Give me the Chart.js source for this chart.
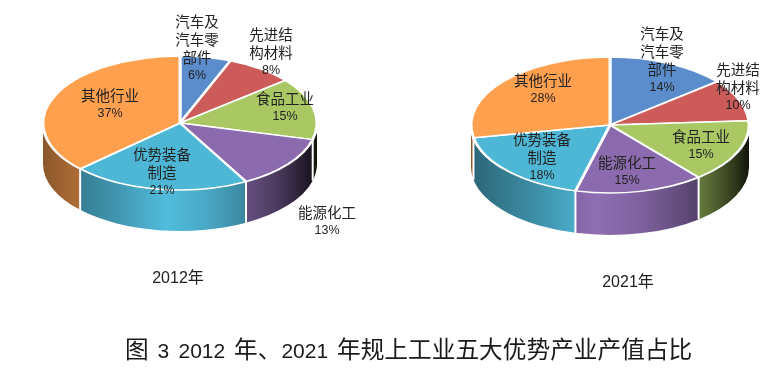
<!DOCTYPE html>
<html lang="zh">
<head>
<meta charset="utf-8">
<script src="https://cdn.jsdelivr.net/npm/chart.js@4"></script>
<style>
html,body{margin:0;padding:0;background:#fff;width:782px;height:372px;overflow:hidden}
canvas{position:absolute;top:0}
#caption{position:absolute;left:125px;top:331px;white-space:pre;font:23.7px/34px "Noto Sans CJK SC",sans-serif;color:#1a1a1a;word-spacing:3.5px}
#caption b{font-weight:normal;font-family:"Liberation Sans",sans-serif;font-size:21px}
</style>
</head>
<body>
<canvas id="c2012" width="391" height="372" style="left:0"></canvas>
<canvas id="c2021" width="391" height="372" style="left:391px"></canvas>
<div id="caption">图 <b>3 2012</b> 年、<b>2021</b> 年规上工业五大优势产业产值占比</div>
<script>
const categories = ['汽车及汽车零部件','先进结构材料','食品工业','能源化工','优势装备制造','其他行业'];
const categoryLines = [['汽车及','汽车零','部件'],['先进结','构材料'],['食品工业'],['能源化工'],['优势装备','制造'],['其他行业']];
const values2012 = [6,8,15,13,21,37];
const values2021 = [14,10,15,15,18,28];
const colors = ['#5b8ccb','#cd5b59','#a9c864','#8b6bae','#4fb7d6','#ffa04f'];
const shadeStops = [[0,0.55],[0.25,0.8],[0.45,1.03],[0.6,0.92],[0.75,0.72],[0.85,0.55],[0.95,0.28],[1,0.1]];

const layout2012 = {cx:180,cy:123,rx:137,ry:67,depth:41,title:'2012年',titleX:178,titleY:279,
  labels:[[197,21],[271,34],[285,98],[327,212],[162,154],[110,95]]};
const layout2021 = {cx:219,cy:125,rx:139,ry:68,depth:42,title:'2021年',titleX:237,titleY:283,
  labels:[[271,33],[347,69],[310,136],[236,162],[151,139],[152,80]]};

function shade(hex,f){
  const n=parseInt(hex.slice(1),16);
  const c=[n>>16,(n>>8)&255,n&255].map(v=>Math.min(255,Math.round(v*f)));
  return `rgb(${c[0]},${c[1]},${c[2]})`;
}
const pie3d = {
  id:'pie3d',
  beforeDatasetsDraw(chart,args,o){
    const ctx=chart.ctx, arcs=chart.getDatasetMeta(0).data;
    const {cx,cy,ry,depth}=o;
    ctx.save();
    arcs.forEach((arc,i)=>{
      const p=arc.getProps(['startAngle','endAngle','outerRadius']);
      const r=p.outerRadius, a0=Math.max(p.startAngle,0), a1=Math.min(p.endAngle,Math.PI);
      if(a1<=a0) return;
      const g=ctx.createLinearGradient(cx-r,0,cx+r,0);
      shadeStops.forEach(s=>g.addColorStop(s[0],shade(colors[i],s[1])));
      ctx.beginPath();
      ctx.ellipse(cx,cy,r,ry,0,a0,a1);
      ctx.ellipse(cx,cy+depth,r,ry,0,a1,a0,true);
      ctx.closePath();
      ctx.fillStyle=g;
      ctx.fill();
    });
    ctx.strokeStyle='#fff';ctx.lineWidth=2;
    arcs.forEach(arc=>{
      const a=arc.getProps(['endAngle']).endAngle, r=arc.getProps(['outerRadius']).outerRadius;
      if(a>0&&a<Math.PI){
        const x=cx+r*Math.cos(a), y=cy+ry*Math.sin(a);
        ctx.beginPath();ctx.moveTo(x,y);ctx.lineTo(x,y+depth);ctx.stroke();
      }
    });
    ctx.restore();
    ctx.save();
    const a0=arcs[0].getProps(['x','y']);
    ctx.translate(0,cy);
    ctx.scale(1,ry/arcs[0].getProps(['outerRadius']).outerRadius);
    ctx.translate(0,-a0.y);
  },
  afterDatasetsDraw(chart){ chart.ctx.restore(); },
  afterDraw(chart,args,o){
    const ctx=chart.ctx, vals=chart.data.datasets[0].data;
    ctx.save();
    ctx.textAlign='center';ctx.textBaseline='middle';ctx.fillStyle='#222';
    const cjk='14.5px "Noto Sans CJK SC",sans-serif', lat='12.5px "Liberation Sans",sans-serif';
    categoryLines.forEach((lines,i)=>{
      const [x,y]=o.labels[i];
      ctx.font=cjk;
      lines.forEach((t,j)=>ctx.fillText(t,x,y+j*18));
      ctx.font=lat;
      ctx.fillText(vals[i]+'%',x,y+lines.length*18+1);
    });
    ctx.font='16px "Liberation Sans","Noto Sans CJK SC",sans-serif';
    ctx.fillText(o.title,o.titleX,o.titleY);
    ctx.restore();
  }
};
function makePie(id,values,l){
  const bw=3, R=l.rx+bw/2;
  new Chart(document.getElementById(id),{
    type:'pie',
    data:{labels:categories,datasets:[{data:values,backgroundColor:colors,borderColor:'#fff',borderWidth:bw,clip:false}]},
    plugins:[pie3d],
    options:{
      responsive:false,animation:false,devicePixelRatio:1,
      layout:{padding:{left:l.cx-R,right:391-l.cx-R,top:186-R,bottom:186-R}},
      plugins:{legend:{display:false},tooltip:{enabled:false},title:{display:false},pie3d:l}
    }
  });
}
makePie('c2012',values2012,layout2012);
makePie('c2021',values2021,layout2021);
</script>
</body>
</html>
